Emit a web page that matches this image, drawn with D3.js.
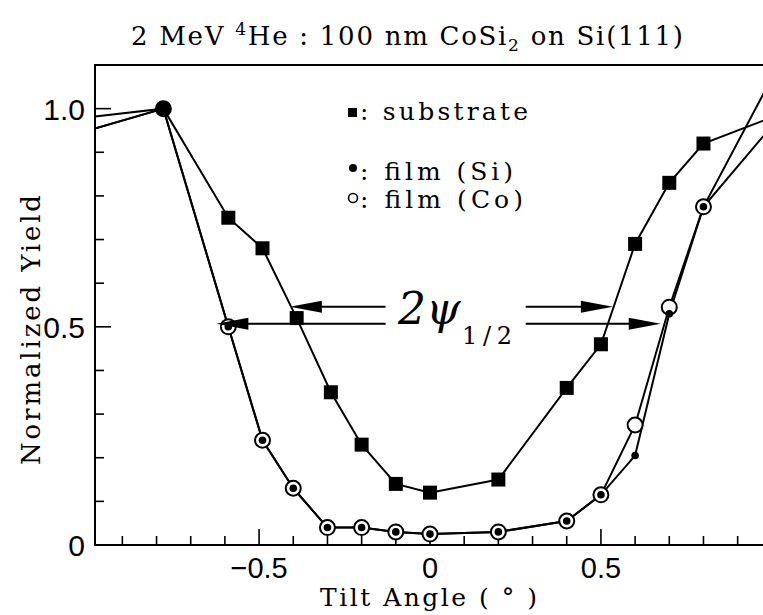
<!DOCTYPE html>
<html>
<head>
<meta charset="utf-8">
<script src="https://cdn.jsdelivr.net/npm/d3@7/dist/d3.min.js"></script>
<style>
  html, body { margin: 0; padding: 0; background: #fff; }
  svg { display: block; }
  .serif { font-family: "DejaVu Serif", "Liberation Serif", serif; }
  .num { font-family: "Liberation Sans Narrow", "Liberation Sans", sans-serif; }
</style>
</head>
<body>
<svg id="chart" width="763" height="615"></svg>
<script>
// Tilt angles (degrees) and normalized yields
const substrateAngle = [-1.0, -0.78, -0.59, -0.49, -0.39, -0.29, -0.2, -0.1, 0, 0.2, 0.4, 0.5, 0.6, 0.7, 0.8, 1.0];
const substrateYield = [0.98, 1.0, 0.75, 0.68, 0.52, 0.35, 0.23, 0.14, 0.12, 0.15, 0.36, 0.46, 0.69, 0.83, 0.92, 0.98];

const filmCoAngle = [-1.0, -0.78, -0.59, -0.49, -0.4, -0.3, -0.2, -0.1, 0, 0.2, 0.4, 0.5, 0.6, 0.7, 0.8, 1.0];
const filmCoYield = [0.95, 1.0, 0.50, 0.24, 0.13, 0.04, 0.04, 0.03, 0.025, 0.03, 0.055, 0.115, 0.275, 0.545, 0.775, 1.07];

const filmSiAngle = [-1.0, -0.78, -0.59, -0.49, -0.4, -0.3, -0.2, -0.1, 0, 0.2, 0.4, 0.5, 0.6, 0.7, 0.8, 1.0];
const filmSiYield = [0.95, 1.0, 0.50, 0.24, 0.13, 0.04, 0.04, 0.03, 0.025, 0.03, 0.055, 0.115, 0.205, 0.53, 0.775, 0.96];

// Shared normalization point
const normAngle = -0.78;
const normYield = 1.0;

const xMajorTicks = [-0.5, 0, 0.5];
const xMajorLabels = ["\u22120.5", "0", "0.5"];
const yMajorTicks = [0, 0.5, 1.0];
const yMajorLabels = ["0", "0.5", "1.0"];

// Critical-angle width arrows: [yield, shaft start, tip] for each side
const arrowLeft = [[0.546, -0.13, -0.41], [0.507, -0.13, -0.625]];
const arrowRight = [[0.546, 0.28, 0.535], [0.507, 0.28, 0.675]];

const svg = d3.select("#chart");
const pLeft = 95, pRight = 765, pTop = 65, pBottom = 545;

const x = d3.scaleLinear().domain([-0.98, 0.98]).range([pLeft, pRight]);
const y = d3.scaleLinear().domain([0, 1.1]).range([pBottom, pTop]);

// Title
const title = svg.append("text").attr("class", "serif")
  .attr("x", 131).attr("y", 45)
  .attr("font-size", 26).attr("fill", "#000")
  .attr("textLength", 552).attr("lengthAdjust", "spacing");
title.append("tspan").text("2 MeV ");
title.append("tspan").attr("font-size", 17).attr("dy", -10).text("4");
title.append("tspan").attr("dy", 10).text("He : 100 nm CoSi");
title.append("tspan").attr("font-size", 17).attr("dy", 6).text("2");
title.append("tspan").attr("dy", -6).text(" on Si(111)");

svg.append("defs").append("clipPath").attr("id", "plotclip")
  .append("rect").attr("x", pLeft).attr("y", pTop)
  .attr("width", pRight - pLeft).attr("height", pBottom - pTop);

// Frame
svg.append("rect").attr("x", pLeft).attr("y", pTop)
  .attr("width", pRight - pLeft).attr("height", pBottom - pTop)
  .attr("fill", "none").attr("stroke", "#000").attr("stroke-width", 2);

// Inward ticks
const isMajor = d => Math.abs(d * 2 - Math.round(d * 2)) < 1e-6;
const xMinor = d3.range(-9, 10).map(i => i / 10);
const yMinor = d3.range(0, 11).map(i => i / 10);
svg.append("g").selectAll("line").data(xMinor).join("line")
  .attr("x1", d => x(d)).attr("x2", d => x(d))
  .attr("y1", pBottom)
  .attr("y2", d => pBottom - (isMajor(d) ? 16 : 9))
  .attr("stroke", "#000").attr("stroke-width", 1.6);
svg.append("g").selectAll("line").data(yMinor).join("line")
  .attr("y1", d => y(d)).attr("y2", d => y(d))
  .attr("x1", pLeft)
  .attr("x2", d => pLeft + (isMajor(d) ? 16 : 9))
  .attr("stroke", "#000").attr("stroke-width", 1.6);

// Tick labels
svg.append("g").selectAll("text").data(xMajorTicks).join("text")
  .attr("class", "num").attr("x", d => x(d)).attr("y", 578)
  .attr("text-anchor", "middle").attr("font-size", 29)
  .text((d, i) => xMajorLabels[i]);
svg.append("g").selectAll("text").data(yMajorTicks).join("text")
  .attr("class", "num").attr("x", 85).attr("y", d => y(d) + 11)
  .attr("text-anchor", "end").attr("font-size", 30)
  .text((d, i) => yMajorLabels[i]);

// Axis titles
svg.append("text").attr("class", "serif")
  .attr("x", 320).attr("y", 606)
  .attr("font-size", 25).attr("textLength", 217).attr("lengthAdjust", "spacing")
  .text("Tilt Angle ( \u00B0 )");
svg.append("text").attr("class", "serif")
  .attr("transform", "translate(40,465) rotate(-90)")
  .attr("font-size", 26).attr("textLength", 270).attr("lengthAdjust", "spacing")
  .text("Normalized Yield");

// Data lines
const plot = svg.append("g").attr("clip-path", "url(#plotclip)");
const line = d3.line().x(d => x(d[0])).y(d => y(d[1]));
const zip = (a, b) => a.map((v, i) => [v, b[i]]);
const sub = zip(substrateAngle, substrateYield);
const co = zip(filmCoAngle, filmCoYield);
const si = zip(filmSiAngle, filmSiYield);
[sub, co, si].forEach(s => {
  plot.append("path").attr("d", line(s)).attr("fill", "none")
    .attr("stroke", "#000").attr("stroke-width", 2);
});

const inside = d => d[0] > -0.98 && d[0] < 0.98 && d[0] !== normAngle;

// Substrate squares
plot.append("g").selectAll("rect").data(sub.filter(inside)).join("rect")
  .attr("x", d => x(d[0]) - 7).attr("y", d => y(d[1]) - 7)
  .attr("width", 14).attr("height", 14).attr("fill", "#000");

// Film (Co) open circles
plot.append("g").selectAll("circle").data(co.filter(inside)).join("circle")
  .attr("cx", d => x(d[0])).attr("cy", d => y(d[1])).attr("r", 7.5)
  .attr("fill", "#fff").attr("stroke", "#000").attr("stroke-width", 2);

// Film (Si) dots
plot.append("g").selectAll("circle").data(si.filter(inside)).join("circle")
  .attr("cx", d => x(d[0])).attr("cy", d => y(d[1])).attr("r", 3.8)
  .attr("fill", "#000");

// Normalization point
plot.append("circle").attr("cx", x(normAngle)).attr("cy", y(normYield))
  .attr("r", 8.5).attr("fill", "#000");

// Width arrows
function arrow(yv, x0, x1) {
  const yy = y(yv), a = x(x0), b = x(x1), dir = Math.sign(b - a);
  svg.append("line").attr("x1", a).attr("x2", b - dir * 20).attr("y1", yy).attr("y2", yy)
    .attr("stroke", "#000").attr("stroke-width", 2);
  svg.append("path")
    .attr("d", `M${b},${yy} L${b - dir * 32},${yy - 6} L${b - dir * 32},${yy + 6} Z`)
    .attr("fill", "#000");
}
arrowLeft.forEach(d => arrow(d[0], d[1], d[2]));
arrowRight.forEach(d => arrow(d[0], d[1], d[2]));

const psi = svg.append("text").attr("x", 398).attr("y", 324)
  .attr("font-family", "DejaVu Serif, serif").attr("font-style", "italic")
  .attr("font-size", 44);
psi.append("tspan").text("2\u03C8");
svg.append("text").attr("class", "serif").attr("x", 462).attr("y", 344)
  .attr("font-size", 24).attr("textLength", 50).attr("lengthAdjust", "spacing").text("1/2");

// Legend
const legend = svg.append("g").attr("class", "serif").attr("font-size", 25);
legend.append("rect").attr("x", 348).attr("y", 108).attr("width", 9).attr("height", 9);
legend.append("text").attr("x", 360).attr("y", 120)
  .attr("textLength", 168).attr("lengthAdjust", "spacing").text(": substrate");
legend.append("circle").attr("cx", 353).attr("cy", 168).attr("r", 4);
legend.append("text").attr("x", 360).attr("y", 180)
  .attr("textLength", 153).attr("lengthAdjust", "spacing").text(": film (Si)");
legend.append("circle").attr("cx", 353).attr("cy", 198).attr("r", 4.5)
  .attr("fill", "none").attr("stroke", "#000").attr("stroke-width", 1.6);
legend.append("text").attr("x", 360).attr("y", 208)
  .attr("textLength", 163).attr("lengthAdjust", "spacing").text(": film (Co)");
</script>
</body>
</html>
